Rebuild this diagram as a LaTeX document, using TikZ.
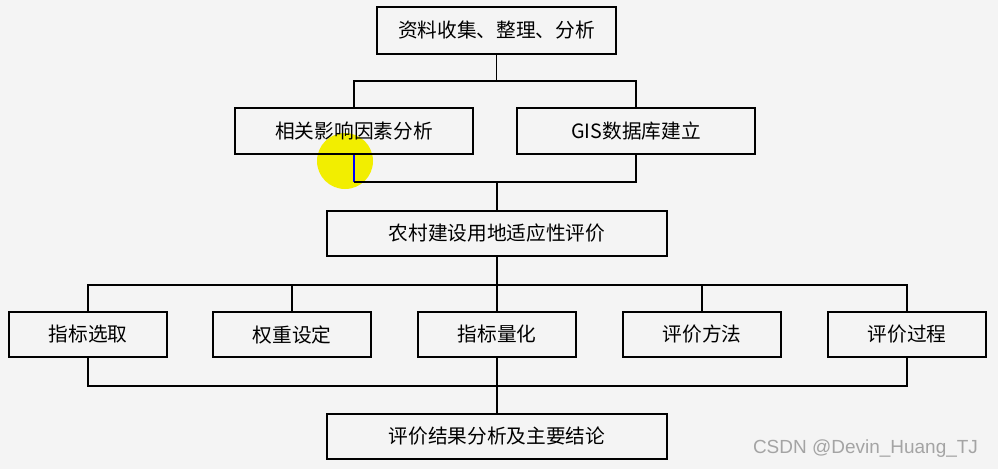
\documentclass[tikz,border=0pt]{standalone}
\usepackage{fontspec}
\setmainfont{Noto Sans CJK SC}
\newfontfamily\wmfont{Liberation Sans}
\usepackage{xcolor}
\usetikzlibrary{positioning}
\definecolor{pagebg}{HTML}{F4F4F4}
\definecolor{marker}{HTML}{F2EE00}
\definecolor{wmgray}{HTML}{A4A4A4}

\begin{document}
\begin{tikzpicture}[
  x=0.025cm, y=-0.025cm,
  font=\fontsize{14}{16}\selectfont,
  every node/.style={align=center},
  box/.style={draw=black, line width=1.4pt, inner sep=0pt, minimum height=1.15cm},
  headbox/.style={box, minimum width=5.95cm, minimum height=1.175cm},
  sidebox/.style={box, minimum width=5.95cm},
  mainbox/.style={box, minimum width=8.5cm, minimum height=1.125cm},
  leafbox/.style={box, minimum width=3.95cm, minimum height=1.125cm},
  link/.style={black, line width=1.4pt},
]

%% --- page ---
\fill[pagebg] (0,0) rectangle (998,469);
\useasboundingbox (0,0) rectangle (998,469);

%% --- cursor highlight (drawn under the boxes) ---
\fill[marker] (345,161) circle (28);

%% --- Row 1 ---
\node[headbox] (collect) at (496.5, 30.5) {资料收集、整理、分析};

%% --- Row 2 ---
\node[sidebox] (factor) at (354, 131) {相关影响因素分析};
\node[sidebox] (gisdb)  at (636, 131) {GIS数据库建立};

%% --- Row 3 ---
\node[mainbox] (suit) at (497, 233.5) {农村建设用地适应性评价};

%% --- Row 4 ---
\node[leafbox] (pick)    at ( 88, 334.5) {指标选取};
\node[leafbox] (weight)  at (292, 334.5) {权重设定};
\node[leafbox] (quant)   at (497, 334.5) {指标量化};
\node[leafbox] (method)  at (702, 334.5) {评价方法};
\node[leafbox] (process) at (907, 334.5) {评价过程};

%% --- Row 5 ---
\node[mainbox] (result) at (497, 436.5) {评价结果分析及主要结论};

%% --- Arrows: Row 1 -> Row 2 ---
\draw[link] (collect.south) -- ++(0,26) -| (factor.north);
\draw[link] (collect.south) -- ++(0,26) -| (gisdb.north);

%% --- Arrows: Row 2 -> Row 3 ---
\draw[link, blue] (factor.south) -- ++(0,27) coordinate (fjoin);
\draw[link] (fjoin) -| (suit.north);
\draw[link] (gisdb.south) -- ++(0,27) -| (suit.north);

%% --- Arrows: Row 3 -> Row 4 ---
\draw[link] (suit.south) -- ++(0,28) -| (pick.north);
\draw[link] (suit.south) -- ++(0,28) -| (weight.north);
\draw[link] (suit.south) -- (quant.north);
\draw[link] (suit.south) -- ++(0,28) -| (method.north);
\draw[link] (suit.south) -- ++(0,28) -| (process.north);

%% --- Arrows: Row 4 -> Row 5 ---
\draw[link] (pick.south)    -- ++(0,28) -| (result.north);
\draw[link] (quant.south)   -- (result.north);
\draw[link] (process.south) -- ++(0,28) -| (result.north);

%% --- watermark ---
\node[text=wmgray, font=\wmfont\fontsize{13.5}{15}\selectfont, anchor=east] (mark) at (983, 449) {CSDN @Devin\_Huang\_TJ};

\end{tikzpicture}
\end{document}
